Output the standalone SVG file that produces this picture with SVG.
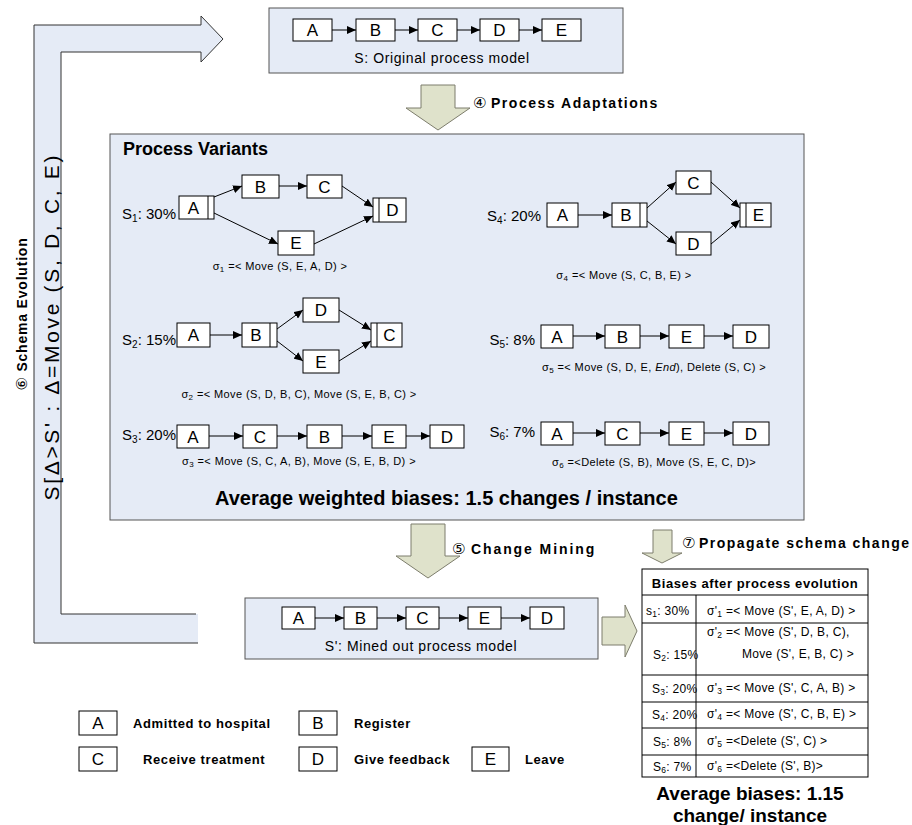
<svg xmlns="http://www.w3.org/2000/svg" width="912" height="825" viewBox="0 0 912 825">
<defs>
<marker id="ah" markerWidth="9" markerHeight="8" refX="9" refY="4" orient="auto" markerUnits="userSpaceOnUse"><path d="M0,0 L9,4 L0,8 z" fill="#000"/></marker>
</defs>
<style>
text{font-family:"Liberation Sans",Arial,"DejaVu Sans",sans-serif;fill:#000}
.nb{fill:#fff;stroke:#000;stroke-width:1}
.nt{font-size:17px;text-anchor:middle}
.c{stroke:#000;stroke-width:1;fill:none;marker-end:url(#ah)}
.bar{stroke:#000;stroke-width:1}
.pan{fill:#e5ebf6;stroke:#555;stroke-width:1}
.olv{fill:#dfe2cb;stroke:#7d7d6c;stroke-width:1}
.sl{font-size:15px;text-anchor:end}
.sig{font-size:11px;text-anchor:middle;letter-spacing:0.4px}
.cap{font-size:14px;text-anchor:middle;letter-spacing:0.6px}
.step{font-size:14px;font-weight:bold;letter-spacing:0.8px}
.num{font-size:15px;font-family:"DejaVu Sans","Noto Sans CJK JP",sans-serif}
.big{font-size:20px;font-weight:bold}
.lg{font-size:13px;font-weight:bold;letter-spacing:0.6px}
.tb{font-size:12px;letter-spacing:0.3px}
.tl{fill:none;stroke:#000;stroke-width:1}
</style>
<rect width="912" height="825" fill="#fff"/>

<!-- schema evolution L-arrow -->
<g id="schema-evolution-arrow">
<polygon points="34,25 201,25 201,16 223,39 201,62 201,52 61,52 61,614 198,614 198,643 34,643" fill="#e5ebf6"/>
<polyline points="198,643 34,643 34,25 201,25 201,16 223,39 201,62 201,52 61,52 61,614 196,614" fill="none" stroke="#333" stroke-width="1"/>
<text class="step" transform="translate(27,314) rotate(-90)" text-anchor="middle"><tspan class="num" font-weight="normal">⑥</tspan> Schema Evolution</text>
<text transform="translate(59,328) rotate(-90)" text-anchor="middle" font-size="21" textLength="345" lengthAdjust="spacing">S[Δ&gt;S' : Δ=Move (S, D, C, E)</text>
</g>

<!-- original process model -->
<g id="original-model">
<rect class="pan" x="269" y="8" width="354" height="65"/>
<text class="cap" x="442" y="63">S: Original process model</text>
</g>
<g id="s0-A"><rect class="nb" x="293" y="19" width="39" height="22"/><text class="nt" x="312.5" y="36">A</text></g>
<g id="s0-B"><rect class="nb" x="356" y="19" width="39" height="22"/><text class="nt" x="375.5" y="36">B</text></g>
<g id="s0-C"><rect class="nb" x="418" y="19" width="39" height="22"/><text class="nt" x="437.5" y="36">C</text></g>
<g id="s0-D"><rect class="nb" x="480" y="19" width="39" height="22"/><text class="nt" x="499.5" y="36">D</text></g>
<g id="s0-E"><rect class="nb" x="542" y="19" width="39" height="22"/><text class="nt" x="561.5" y="36">E</text></g>

<!-- step 4 arrow -->
<g id="step4">
<polygon class="olv" points="421,85 455,85 455,108 470,108 438,130 406,108 421,108"/>
<text class="num" x="473" y="108">④</text>
<text class="step" x="491" y="108" textLength="167" lengthAdjust="spacing">Process Adaptations</text>
</g>

<!-- process variants panel -->
<g id="process-variants">
<rect class="pan" x="110" y="134" width="694" height="386"/>
<text x="123" y="155" font-size="18" font-weight="bold">Process Variants</text>
<text class="big" x="215" y="505">Average weighted biases: 1.5 changes / instance</text>
</g>

<!-- S1 -->
<g id="s1-label">
<text class="sl" x="176" y="219">S<tspan font-size="10" dy="3">1</tspan><tspan dy="-3">: 30%</tspan></text>
<text class="sig" x="280" y="270">σ<tspan font-size="8" dy="2">1</tspan><tspan dy="-2"> =&lt; Move (S, E, A, D) &gt;</tspan></text>
</g>
<g id="s1-A"><rect class="nb" x="179" y="196" width="35" height="23"/><line class="bar" x1="208" y1="196" x2="208" y2="219"/><text class="nt" x="193.5" y="213.5">A</text></g>
<g id="s1-B"><rect class="nb" x="242" y="175" width="37" height="23"/><text class="nt" x="260.5" y="192.5">B</text></g>
<g id="s1-C"><rect class="nb" x="307" y="175" width="35" height="23"/><text class="nt" x="324.5" y="192.5">C</text></g>
<g id="s1-D"><rect class="nb" x="373" y="198" width="33" height="24"/><line class="bar" x1="379" y1="198" x2="379" y2="222"/><text class="nt" x="392.5" y="216">D</text></g>
<g id="s1-E"><rect class="nb" x="278" y="231" width="36" height="24"/><text class="nt" x="296" y="249">E</text></g>

<!-- S4 -->
<g id="s4-label">
<text class="sl" x="541" y="221">S<tspan font-size="10" dy="3">4</tspan><tspan dy="-3">: 20%</tspan></text>
<text class="sig" x="624" y="279">σ<tspan font-size="8" dy="2">4</tspan><tspan dy="-2"> =&lt; Move (S, C, B, E) &gt;</tspan></text>
</g>
<g id="s4-A"><rect class="nb" x="547" y="203" width="31" height="24"/><text class="nt" x="562.5" y="221">A</text></g>
<g id="s4-B"><rect class="nb" x="612" y="203" width="35" height="24"/><line class="bar" x1="640" y1="203" x2="640" y2="227"/><text class="nt" x="626" y="221">B</text></g>
<g id="s4-C"><rect class="nb" x="676" y="171" width="35" height="23"/><text class="nt" x="693.5" y="188.5">C</text></g>
<g id="s4-D"><rect class="nb" x="676" y="232" width="35" height="23"/><text class="nt" x="693.5" y="249.5">D</text></g>
<g id="s4-E"><rect class="nb" x="740" y="203" width="31" height="24"/><line class="bar" x1="746" y1="203" x2="746" y2="227"/><text class="nt" x="758.5" y="221">E</text></g>

<!-- S2 -->
<g id="s2-label">
<text class="sl" x="176" y="345">S<tspan font-size="10" dy="3">2</tspan><tspan dy="-3">: 15%</tspan></text>
<text class="sig" x="299" y="398">σ<tspan font-size="8" dy="2">2</tspan><tspan dy="-2"> =&lt; Move (S, D, B, C), Move (S, E, B, C) &gt;</tspan></text>
</g>
<g id="s2-A"><rect class="nb" x="177" y="323" width="33" height="24"/><text class="nt" x="193.5" y="341">A</text></g>
<g id="s2-B"><rect class="nb" x="242" y="323" width="35" height="24"/><line class="bar" x1="270" y1="323" x2="270" y2="347"/><text class="nt" x="256" y="341">B</text></g>
<g id="s2-D"><rect class="nb" x="303" y="298" width="36" height="24"/><text class="nt" x="321" y="316">D</text></g>
<g id="s2-E"><rect class="nb" x="303" y="350" width="36" height="23"/><text class="nt" x="321" y="367.5">E</text></g>
<g id="s2-C"><rect class="nb" x="371" y="323" width="31" height="24"/><line class="bar" x1="377" y1="323" x2="377" y2="347"/><text class="nt" x="389.5" y="341">C</text></g>

<!-- S3 -->
<g id="s3-label">
<text class="sl" x="176" y="440">S<tspan font-size="10" dy="3">3</tspan><tspan dy="-3">: 20%</tspan></text>
<text class="sig" x="299" y="465">σ<tspan font-size="8" dy="2">3</tspan><tspan dy="-2"> =&lt; Move (S, C, A, B), Move (S, E, B, D) &gt;</tspan></text>
</g>
<g id="s3-A"><rect class="nb" x="177" y="425" width="32" height="23"/><text class="nt" x="193" y="442.5">A</text></g>
<g id="s3-C"><rect class="nb" x="243" y="425" width="34" height="23"/><text class="nt" x="260" y="442.5">C</text></g>
<g id="s3-B"><rect class="nb" x="307" y="425" width="35" height="23"/><text class="nt" x="324.5" y="442.5">B</text></g>
<g id="s3-E"><rect class="nb" x="372" y="425" width="34" height="23"/><text class="nt" x="389" y="442.5">E</text></g>
<g id="s3-D"><rect class="nb" x="430" y="425" width="34" height="23"/><text class="nt" x="447" y="442.5">D</text></g>

<!-- S5 -->
<g id="s5-label">
<text class="sl" x="535" y="345">S<tspan font-size="10" dy="3">5</tspan><tspan dy="-3">: 8%</tspan></text>
<text class="sig" x="654" y="371">σ<tspan font-size="8" dy="2">5</tspan><tspan dy="-2"> =&lt; Move (S, D, E, <tspan font-style="italic">End</tspan>), Delete (S, C) &gt;</tspan></text>
</g>
<g id="s5-A"><rect class="nb" x="541" y="325" width="32" height="23"/><text class="nt" x="557" y="342.5">A</text></g>
<g id="s5-B"><rect class="nb" x="605" y="325" width="35" height="23"/><text class="nt" x="622.5" y="342.5">B</text></g>
<g id="s5-E"><rect class="nb" x="669" y="325" width="35" height="23"/><text class="nt" x="686.5" y="342.5">E</text></g>
<g id="s5-D"><rect class="nb" x="733" y="325" width="36" height="23"/><text class="nt" x="751" y="342.5">D</text></g>

<!-- S6 -->
<g id="s6-label">
<text class="sl" x="535" y="437">S<tspan font-size="10" dy="3">6</tspan><tspan dy="-3">: 7%</tspan></text>
<text class="sig" x="654" y="466">σ<tspan font-size="8" dy="2">6</tspan><tspan dy="-2"> =&lt;Delete (S, B), Move (S, E, C, D)&gt;</tspan></text>
</g>
<g id="s6-A"><rect class="nb" x="541" y="422" width="32" height="23"/><text class="nt" x="557" y="439.5">A</text></g>
<g id="s6-C"><rect class="nb" x="605" y="422" width="35" height="23"/><text class="nt" x="622.5" y="439.5">C</text></g>
<g id="s6-E"><rect class="nb" x="669" y="422" width="35" height="23"/><text class="nt" x="686.5" y="439.5">E</text></g>
<g id="s6-D"><rect class="nb" x="733" y="422" width="36" height="23"/><text class="nt" x="751" y="439.5">D</text></g>

<!-- step 5 arrow -->
<g id="step5">
<polygon class="olv" points="411,524 445,524 445,556 460,556 428,578 396,556 411,556"/>
<text class="num" x="452" y="554">⑤</text>
<text class="step" x="471" y="554" textLength="124" lengthAdjust="spacing">Change Mining</text>
</g>

<!-- mined model -->
<g id="mined-model">
<rect class="pan" x="245" y="598" width="353" height="61"/>
<text class="cap" x="421" y="651">S': Mined out process model</text>
</g>
<g id="m-A"><rect class="nb" x="282" y="607" width="33" height="22"/><text class="nt" x="298.5" y="624">A</text></g>
<g id="m-B"><rect class="nb" x="344" y="607" width="33" height="22"/><text class="nt" x="360.5" y="624">B</text></g>
<g id="m-C"><rect class="nb" x="406" y="607" width="33" height="22"/><text class="nt" x="422.5" y="624">C</text></g>
<g id="m-E"><rect class="nb" x="468" y="607" width="33" height="22"/><text class="nt" x="484.5" y="624">E</text></g>
<g id="m-D"><rect class="nb" x="530" y="607" width="34" height="22"/><text class="nt" x="547" y="624">D</text></g>

<!-- right arrow and step 7 -->
<g id="to-table-arrow"><polygon class="olv" points="602,617 625,617 625,605 637,631 625,657 625,645 602,645"/></g>
<g id="step7">
<polygon class="olv" points="653,530 672,530 672,553 682,553 662,563 642,553 653,553"/>
<text class="num" x="682" y="548">⑦</text>
<text x="699" y="548" font-size="14" font-weight="bold" textLength="210" lengthAdjust="spacing">Propagate schema change</text>
</g>

<!-- table -->
<g id="bias-table">
<rect class="tl" x="642" y="569" width="226" height="208"/>
<path class="tl" d="M642,595 H868 M642,623 H868 M642,675 H868 M642,702 H868 M642,728 H868 M642,755 H868 M696,595 V777"/>
<text x="755" y="588" font-size="13" font-weight="bold" letter-spacing="0.6" text-anchor="middle">Biases after process evolution</text>
<text class="tb" x="646" y="615" letter-spacing="1">s<tspan font-size="8.5" dy="2">1</tspan><tspan dy="-2">: 30%</tspan></text>
<text class="tb" x="707" y="615">σ'<tspan font-size="8.5" dy="2">1</tspan><tspan dy="-2"> =&lt; Move (S', E, A, D) &gt;</tspan></text>
<text class="tb" x="707" y="636">σ'<tspan font-size="8.5" dy="2">2</tspan><tspan dy="-2"> =&lt; Move (S', D, B, C),</tspan></text>
<text class="tb" x="742" y="658">Move (S', E, B, C) &gt;</text>
<text class="tb" x="653" y="659">S<tspan font-size="8.5" dy="2">2</tspan><tspan dy="-2">: 15%</tspan></text>
<text class="tb" x="652" y="693">S<tspan font-size="8.5" dy="2">3</tspan><tspan dy="-2">: 20%</tspan></text>
<text class="tb" x="707" y="692">σ'<tspan font-size="8.5" dy="2">3</tspan><tspan dy="-2"> =&lt; Move (S', C, A, B) &gt;</tspan></text>
<text class="tb" x="652" y="719">S<tspan font-size="8.5" dy="2">4</tspan><tspan dy="-2">: 20%</tspan></text>
<text class="tb" x="707" y="718">σ'<tspan font-size="8.5" dy="2">4</tspan><tspan dy="-2"> =&lt; Move (S', C, B, E) &gt;</tspan></text>
<text class="tb" x="653" y="746">S<tspan font-size="8.5" dy="2">5</tspan><tspan dy="-2">: 8%</tspan></text>
<text class="tb" x="707" y="745">σ'<tspan font-size="8.5" dy="2">5</tspan><tspan dy="-2"> =&lt;Delete (S', C) &gt;</tspan></text>
<text class="tb" x="653" y="771">S<tspan font-size="8.5" dy="2">6</tspan><tspan dy="-2">: 7%</tspan></text>
<text class="tb" x="707" y="770">σ'<tspan font-size="8.5" dy="2">6</tspan><tspan dy="-2"> =&lt;Delete (S', B)&gt;</tspan></text>
<text x="750" y="800" font-size="19" font-weight="bold" text-anchor="middle">Average biases: 1.15</text>
<text x="750" y="822" font-size="19" font-weight="bold" text-anchor="middle">change/ instance</text>
</g>

<!-- legend -->
<g id="legend-A"><rect class="nb" x="79" y="711" width="38" height="24"/><text class="nt" x="98" y="729">A</text><text class="lg" x="133" y="728">Admitted to hospital</text></g>
<g id="legend-B"><rect class="nb" x="299" y="711" width="38" height="24"/><text class="nt" x="318" y="729">B</text><text class="lg" x="354" y="728">Register</text></g>
<g id="legend-C"><rect class="nb" x="79" y="747" width="38" height="24"/><text class="nt" x="98" y="765">C</text><text class="lg" x="143" y="764">Receive treatment</text></g>
<g id="legend-D"><rect class="nb" x="299" y="747" width="38" height="24"/><text class="nt" x="318" y="765">D</text><text class="lg" x="354" y="764">Give feedback</text></g>
<g id="legend-E"><rect class="nb" x="472" y="747" width="37" height="24"/><text class="nt" x="490.5" y="765">E</text><text class="lg" x="525" y="764">Leave</text></g>

<!-- connectors -->
<g id="connectors">
<path class="c" d="M332,30 L356,30"/>
<path class="c" d="M395,30 L418,30"/>
<path class="c" d="M457,30 L480,30"/>
<path class="c" d="M519,30 L542,30"/>

<path class="c" d="M214,197 L242,186"/>
<path class="c" d="M214,213 L278,244"/>
<path class="c" d="M279,186 L307,186"/>
<path class="c" d="M342,186 L373,207"/>
<path class="c" d="M314,244 L373,216"/>

<path class="c" d="M578,215 L612,215"/>
<path class="c" d="M647,208 L676,182"/>
<path class="c" d="M647,221 L676,244"/>
<path class="c" d="M711,182 L740,208"/>
<path class="c" d="M711,244 L740,220"/>

<path class="c" d="M210,335 L242,335"/>
<path class="c" d="M277,329 L303,310"/>
<path class="c" d="M277,341 L303,361"/>
<path class="c" d="M339,310 L371,330"/>
<path class="c" d="M339,361 L371,341"/>

<path class="c" d="M209,436 L243,436"/>
<path class="c" d="M277,436 L307,436"/>
<path class="c" d="M342,436 L372,436"/>
<path class="c" d="M406,436 L430,436"/>

<path class="c" d="M573,336 L605,336"/>
<path class="c" d="M640,336 L669,336"/>
<path class="c" d="M704,336 L733,336"/>

<path class="c" d="M573,433 L605,433"/>
<path class="c" d="M640,433 L669,433"/>
<path class="c" d="M704,433 L733,433"/>

<path class="c" d="M315,618 L344,618"/>
<path class="c" d="M377,618 L406,618"/>
<path class="c" d="M439,618 L468,618"/>
<path class="c" d="M501,618 L530,618"/>
</g>
</svg>
